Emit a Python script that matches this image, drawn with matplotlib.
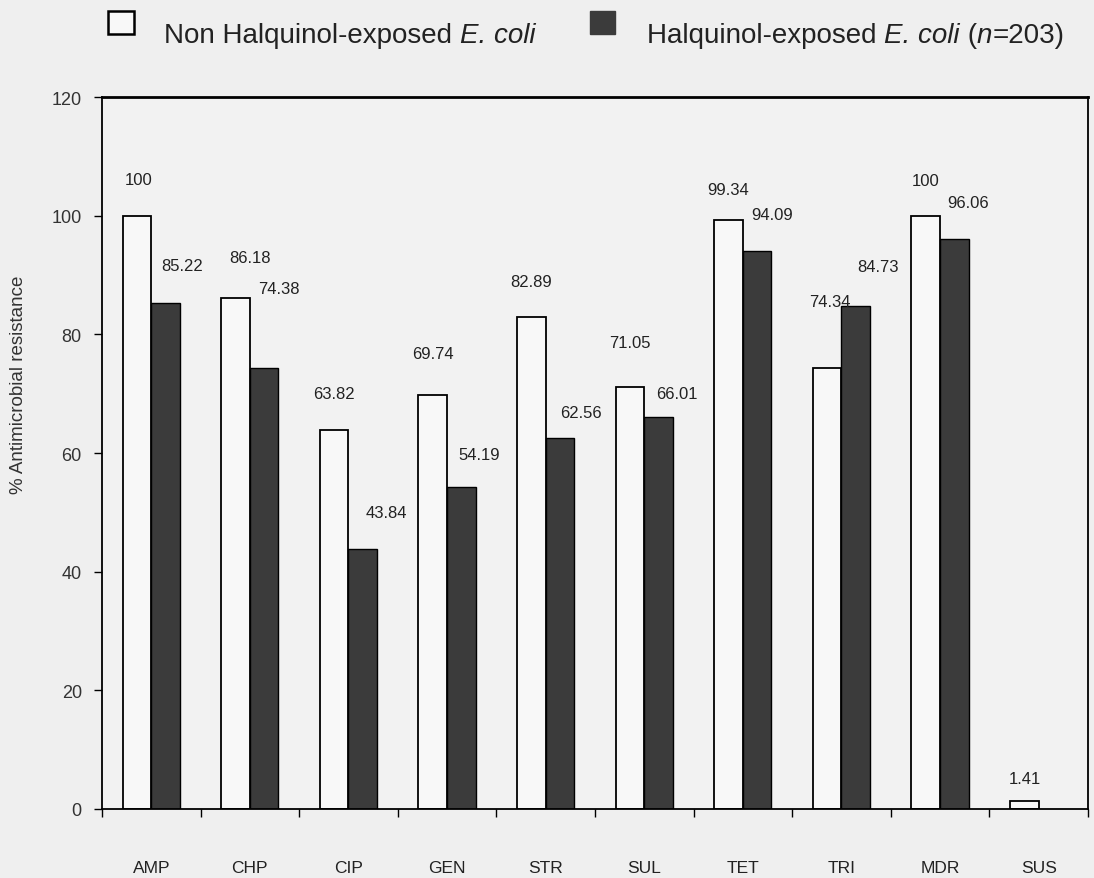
"""Antimicrobial resistance of halquinol-exposed vs non-exposed E. coli."""

import matplotlib
matplotlib.use("Agg")
import matplotlib.pyplot as plt
import numpy as np
from matplotlib.patches import Rectangle

categories = ["AMP", "CHP", "CIP", "GEN", "STR", "SUL", "TET", "TRI", "MDR", "SUS"]
non_exposed = [100, 86.18, 63.82, 69.74, 82.89, 71.05, 99.34, 74.34, 100, 1.41]
exposed = [85.22, 74.38, 43.84, 54.19, 62.56, 66.01, 94.09, 84.73, 96.06, np.nan]

# hand-placed label offsets (pixels) as in the original figure
white_gap = [36, 40, 37, 42, 36, 45, 30, 66, 35, 22]
dark_gap = [38, 79, 36, 33, 25, 24, 36, 40, 37, 0]
white_dx = [2, 14, 0, 0, 0, 0, 0, 3, 0, 0]
dark_dx = [17, 15, 24, 18, 21, 18, 15, 22, 14, 0]

plt.rcParams["font.family"] = ["Liberation Sans", "DejaVu Sans"]

BG = "#efefef"
DARK = "#3b3b3b"

fig = plt.figure(figsize=(10.94, 8.79), dpi=100, facecolor=BG)
ax = fig.add_axes([0.0932, 0.0785, 0.9013, 0.8100], facecolor="#f2f2f2")

x = np.arange(len(categories))
w = 0.29
ax.bar(x - 0.145, non_exposed, w, color="#f8f8f8", edgecolor="black", linewidth=1.3)
ax.bar(x + 0.145, exposed, w, color=DARK, edgecolor="black", linewidth=1.0)

for i in range(len(categories)):
    ax.annotate(f"{non_exposed[i]:g}", (x[i] - 0.145, non_exposed[i]),
                xytext=(white_dx[i], white_gap[i]), textcoords="offset pixels",
                ha="center", va="center", fontsize=12, color="#222222")
    if not np.isnan(exposed[i]):
        ax.annotate(f"{exposed[i]:g}", (x[i] + 0.145, exposed[i]),
                    xytext=(dark_dx[i], dark_gap[i]), textcoords="offset pixels",
                    ha="center", va="center", fontsize=12, color="#222222")

ax.set_xlim(-0.5, len(categories) - 0.5)
ax.set_ylim(0, 120)
ax.set_yticks(range(0, 121, 20))
ax.set_xticks(x)
ax.set_xticklabels(categories, fontsize=12.5, color="#222222")
ax.set_xticks(np.arange(-0.5, len(categories)), minor=True)
ax.tick_params(axis="x", which="major", length=0, pad=37)
ax.tick_params(axis="x", which="minor", length=6, width=1, direction="out")
ax.tick_params(axis="y", length=5.5, width=1, direction="out", labelsize=13,
               pad=9, labelcolor="#333333")
for side in ["left", "bottom", "right"]:
    ax.spines[side].set_linewidth(1.3)
ax.spines["top"].set_linewidth(2)
ax.set_ylabel("% Antimicrobial resistance", fontsize=13.5, color="#333333")
ax.yaxis.set_label_coords(-0.076, 0.597)

# legend drawn by hand, the way the original lays it out
fig.patches.append(Rectangle((0.0987, 0.9602), 0.0238, 0.0261, transform=fig.transFigure,
                             facecolor="#f8f8f8", edgecolor="black", linewidth=1.8))
fig.patches.append(Rectangle((0.5393, 0.9602), 0.0229, 0.0261, transform=fig.transFigure,
                             facecolor=DARK, edgecolor=DARK, linewidth=1))

renderer = fig.canvas.get_renderer()


def mixed_text(x0, y0, parts):
    """Write (text, style) pieces one after another along a baseline."""
    for text, style in parts:
        t = fig.text(x0, y0, text, fontsize=20, fontstyle=style,
                     va="baseline", color="#222222")
        bb = t.get_window_extent(renderer)
        x0 += bb.width / fig.bbox.width


mixed_text(0.1499, 0.951, [("Non Halquinol-exposed ", "normal"), ("E. coli", "italic")])
mixed_text(0.5914, 0.951, [("Halquinol-exposed ", "normal"), ("E. coli", "italic"),
                           (" (", "normal"), ("n", "italic"), ("=203)", "normal")])

fig.savefig("out.png", dpi=100, facecolor=BG)
